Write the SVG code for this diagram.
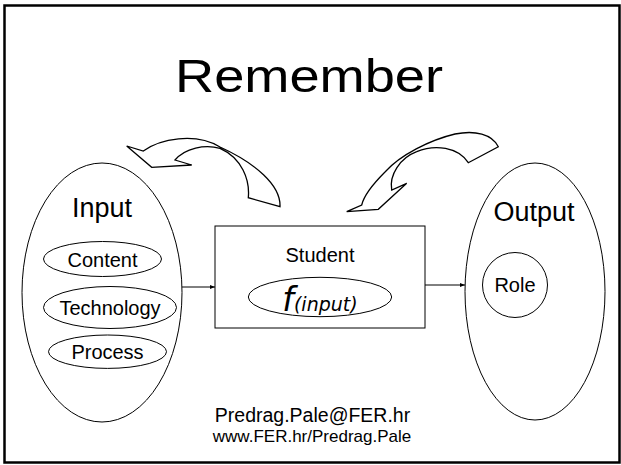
<svg xmlns="http://www.w3.org/2000/svg" width="621" height="465" viewBox="0 0 621 465">
  <defs>
    <marker id="arr" viewBox="0 0 10 10" refX="10" refY="5" markerWidth="5" markerHeight="5" orient="auto" markerUnits="userSpaceOnUse">
      <path d="M0,1 L10,5 L0,9 Z" fill="#000"/>
    </marker>
    <style>
      text { font-family: "Liberation Sans", Arial, sans-serif; fill: #000; text-anchor: middle; }
      .shape { fill: #fff; stroke: #000; stroke-width: 1; }
      .curl { fill: #fff; stroke: #000; stroke-width: 1.3; stroke-linejoin: miter; }
      .conn { fill: none; stroke: #000; stroke-width: 1; }
      .big { font-size: 27px; }
      .mid { font-size: 20px; }
    </style>
  </defs>
  <rect x="0" y="0" width="621" height="465" fill="#fff"/>
  <rect x="4.5" y="5.5" width="615" height="457" fill="none" stroke="#000" stroke-width="2.5"/>

  <text x="309" y="92" font-size="47" textLength="268" lengthAdjust="spacingAndGlyphs">Remember</text>

  <g id="curl-left">
    <path class="curl" d="M126.7,146 L143.3,151 C160,139 195,132 220,147 C255,163 281,185 280,206.7 L248.3,197.7 C250,180 242,158 220,148.3 C205,144 185,148 175,160 L191.7,165 L151.7,167.3 Z"/>
  </g>
  <g id="curl-right">
    <path class="curl" d="M346.7,211.7 L378.3,209.3 L406.7,183.3 L391.7,190 C389,175 400,158 416.7,151.7 C435,144 458,147 468.3,162.7 L498.3,146.7 C492,134 475,130 455,134 C430,140 400,155 385,172 C372,185 364,195 361.7,205 Z"/>
  </g>

  <g id="input">
    <ellipse class="shape" cx="102" cy="292.5" rx="80" ry="129.5"/>
    <text class="big" x="102" y="217">Input</text>
  </g>
  <g id="content">
    <ellipse class="shape" cx="102.5" cy="259" rx="59" ry="17.5"/>
    <text class="mid" x="102.5" y="267">Content</text>
  </g>
  <g id="technology">
    <ellipse class="shape" cx="110" cy="307.5" rx="66.5" ry="21"/>
    <text class="mid" x="110" y="315">Technology</text>
  </g>
  <g id="process">
    <ellipse class="shape" cx="107.5" cy="351.7" rx="59" ry="16.7"/>
    <text class="mid" x="107.5" y="358.5">Process</text>
  </g>

  <g id="student">
    <rect class="shape" x="215" y="226" width="210" height="102"/>
    <text class="mid" x="320" y="262">Student</text>
  </g>
  <g id="function">
    <ellipse class="shape" cx="320" cy="297" rx="71.7" ry="19.7"/>
    <text x="320" y="311" font-style="italic" style="font-family:'DejaVu Sans', sans-serif"><tspan font-size="33">f</tspan><tspan font-size="19">(input)</tspan></text>
  </g>

  <g id="output">
    <ellipse class="shape" cx="535" cy="291.5" rx="70" ry="128.5"/>
    <text class="big" x="534" y="221">Output</text>
  </g>
  <g id="role">
    <circle class="shape" cx="515" cy="285" r="32.5"/>
    <text class="mid" x="515" y="292">Role</text>
  </g>

  <g id="connectors">
    <line class="conn" x1="182" y1="287" x2="215" y2="287" marker-end="url(#arr)"/>
    <line class="conn" x1="425" y1="285" x2="465" y2="285" marker-end="url(#arr)"/>
  </g>

  <text x="312.5" y="421.5" font-size="19.5">Predrag.Pale@FER.hr</text>
  <text x="312" y="441.5" font-size="17">www.FER.hr/Predrag.Pale</text>
</svg>
